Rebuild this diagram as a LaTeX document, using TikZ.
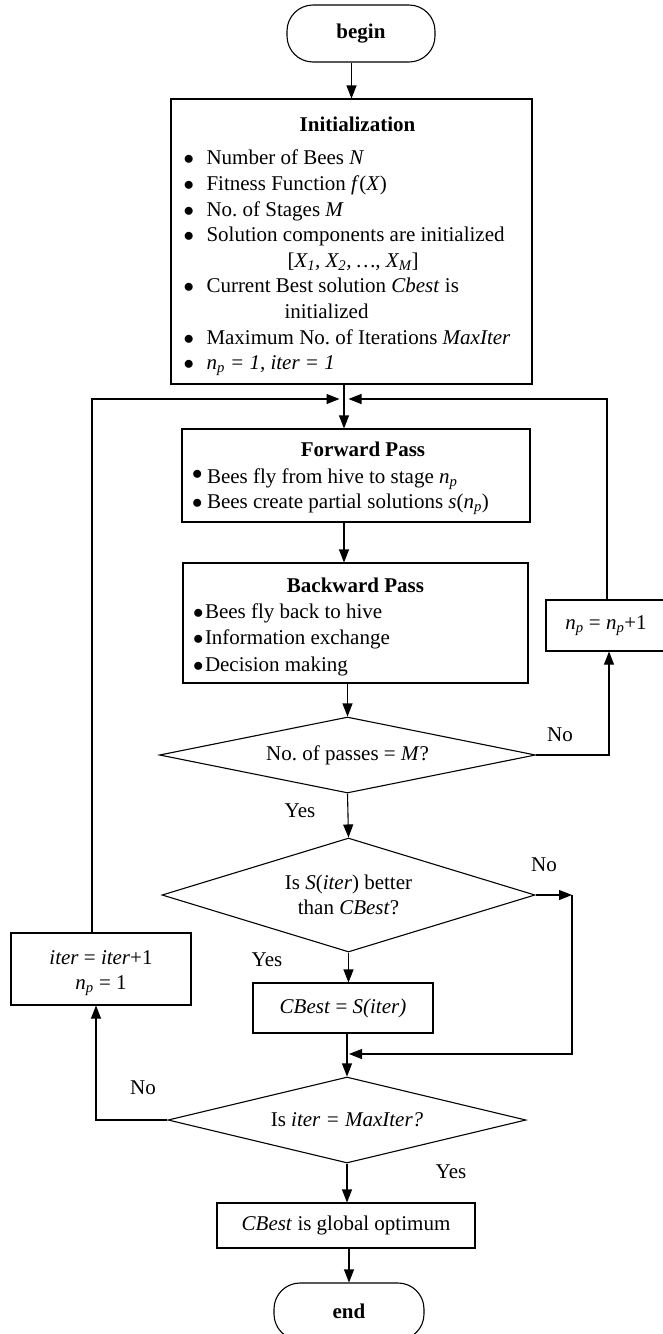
\documentclass[tikz,border=0pt]{standalone}
\usepackage{fontspec}
\setmainfont{Liberation Serif}
\usetikzlibrary{arrows.meta, shapes.geometric}

\newcommand{\bul}[2][0pt]{\makebox[#2][l]{\raisebox{#1}{$\bullet$}}}

\begin{document}
\frenchspacing
\begin{tikzpicture}[x=1pt, y=-1pt, line width=1.1pt, font=\fontsize{21}{25.6}\selectfont, flow/.style={-{Triangle[length=13pt,width=10pt]}}, box/.style={draw, rectangle, inner xsep=10pt, inner ysep=4pt, align=flush left}, term/.style={draw, rectangle, rounded corners=26pt, minimum width=148pt, minimum height=57pt, font=\fontsize{21}{25.6}\selectfont\bfseries}, dec/.style={draw, diamond, inner sep=0pt, align=center}, tag/.style={inner sep=0pt}]
\useasboundingbox (0,0) rectangle (662,1334);

\node[term] (bgn) at (361,33.5) {begin};
\node[box, minimum width=361pt, minimum height=285pt, text width=336pt, inner xsep=12.5pt] (init) at (351.5,241.5) {\rule{0pt}{25pt}\makebox[336pt]{\hspace{12pt}\textbf{Initialization}}\\[7.4pt]
 \bul{23pt}Number of Bees \textit{N}\\
 \bul{23pt}Fitness Function \textit{f}(\textit{X})\\
 \bul{23pt}No. of Stages \textit{M}\\
 \bul{23pt}\mbox{Solution components are initialized}\\
 \hspace*{104pt}[\textit{X\textsubscript{1}, X\textsubscript{2}, …, X\textsubscript{M}}]\\
 \bul{23pt}Current Best solution \textit{Cbest} is\\
 \hspace*{101pt}initialized\\
 \bul{23pt}\mbox{Maximum No. of Iterations \textit{MaxIter}}\\
 \bul{23pt}\textit{n\textsubscript{p} = 1, iter = 1}};
\node[box, minimum width=348pt, minimum height=93pt, text width=328pt] (fwd) at (356,475.5) {\rule{0pt}{20pt}\makebox[328pt]{\hspace{14pt}\textbf{Forward Pass}}\\[1.4pt]
 \bul[4pt]{15pt}Bees fly from hive to stage \textit{n\textsubscript{p}}\\
 \bul{15pt}\mbox{Bees create partial solutions \textit{s}(\textit{n\textsubscript{p}})}};
\node[box, minimum width=345pt, minimum height=120pt, text width=325pt] (bwd) at (355.5,623) {\rule{0pt}{22pt}\makebox[325pt]{\textbf{Backward Pass}}\\
 \bul{12pt}Bees fly back to hive\\[0.9pt]
 \bul{12pt}Information exchange\\[0.9pt]
 \bul{12pt}Decision making};
\node[box, minimum width=120pt, minimum height=51pt, align=center] (incnp) at (606,625.5) {\textit{n\textsubscript{p}} = \textit{n\textsubscript{p}}+1};
\node[dec, minimum width=376pt, minimum height=76pt, aspect=5] (passes) at (347.5,755) {No. of passes = \textit{M}?};
\node[dec, minimum width=373pt, minimum height=114pt, aspect=3.3] (better) at (348.5,895) {Is \textit{S}(\textit{iter}) better\\than \textit{CBest}?};
\node[box, minimum width=180pt, minimum height=72pt, align=center] (reset) at (101,969) {\rule{0pt}{22pt}\textit{iter} = \textit{iter}+1\\\textit{n\textsubscript{p}} = 1};
\node[box, minimum width=180pt, minimum height=50pt, align=center] (cbest) at (343,1008) {\textit{CBest} = \textit{S(iter)}};
\node[dec, minimum width=358pt, minimum height=86pt, aspect=4.2] (maxit) at (347,1120) {Is \textit{iter = MaxIter?}};
\node[box, minimum width=258pt, minimum height=45pt, align=center] (opt) at (346,1225.5) {\textit{CBest} is global optimum};
\node[term, minimum width=150pt] (stop) at (349,1311.5) {end};

\node[tag] (noA) at (560,735) {No}; \node[tag] (yesA) at (300,811) {Yes};
\node[tag] (noB) at (544,865) {No}; \node[tag] (yesB) at (267,960) {Yes};
\node[tag] (noC) at (143,1088) {No}; \node[tag] (yesC) at (451,1172) {Yes};

\coordinate (top) at (344,399); \coordinate (cnr) at (572,895); \coordinate (mrg) at (349,1054);

\draw[flow] (bgn.south -| init.north) -- (init.north);
\draw[flow] (top |- init.south) -- (top |- fwd.north);
\draw[flow] (top |- fwd.south) -- (top |- bwd.north);
\draw[flow] (passes.north |- bwd.south) -- (passes.north);
\draw[flow] (passes.east) -| ([xshift=3pt]incnp.south);
\draw[flow] ([xshift=1pt]incnp.north) |- ([xshift=4.5pt]top);
\draw[flow] (passes.south) -- (better.north);
\draw[flow] (better.east) -- (cnr); \draw[flow] (cnr) |- (mrg);
\draw[flow] (better.south) -- (better.south |- cbest.north);
\draw[flow] (maxit.north |- cbest.south) -- (maxit.north);
\draw[flow] (maxit.west) -| ([xshift=-5pt]reset.south);
\draw[flow] ([xshift=-9pt]reset.north) |- ([xshift=-4.5pt]top);
\draw[flow] (maxit.south) -- (maxit.south |- opt.north);
\draw[flow] (stop.north |- opt.south) -- (stop.north);
\end{tikzpicture}
\end{document}
